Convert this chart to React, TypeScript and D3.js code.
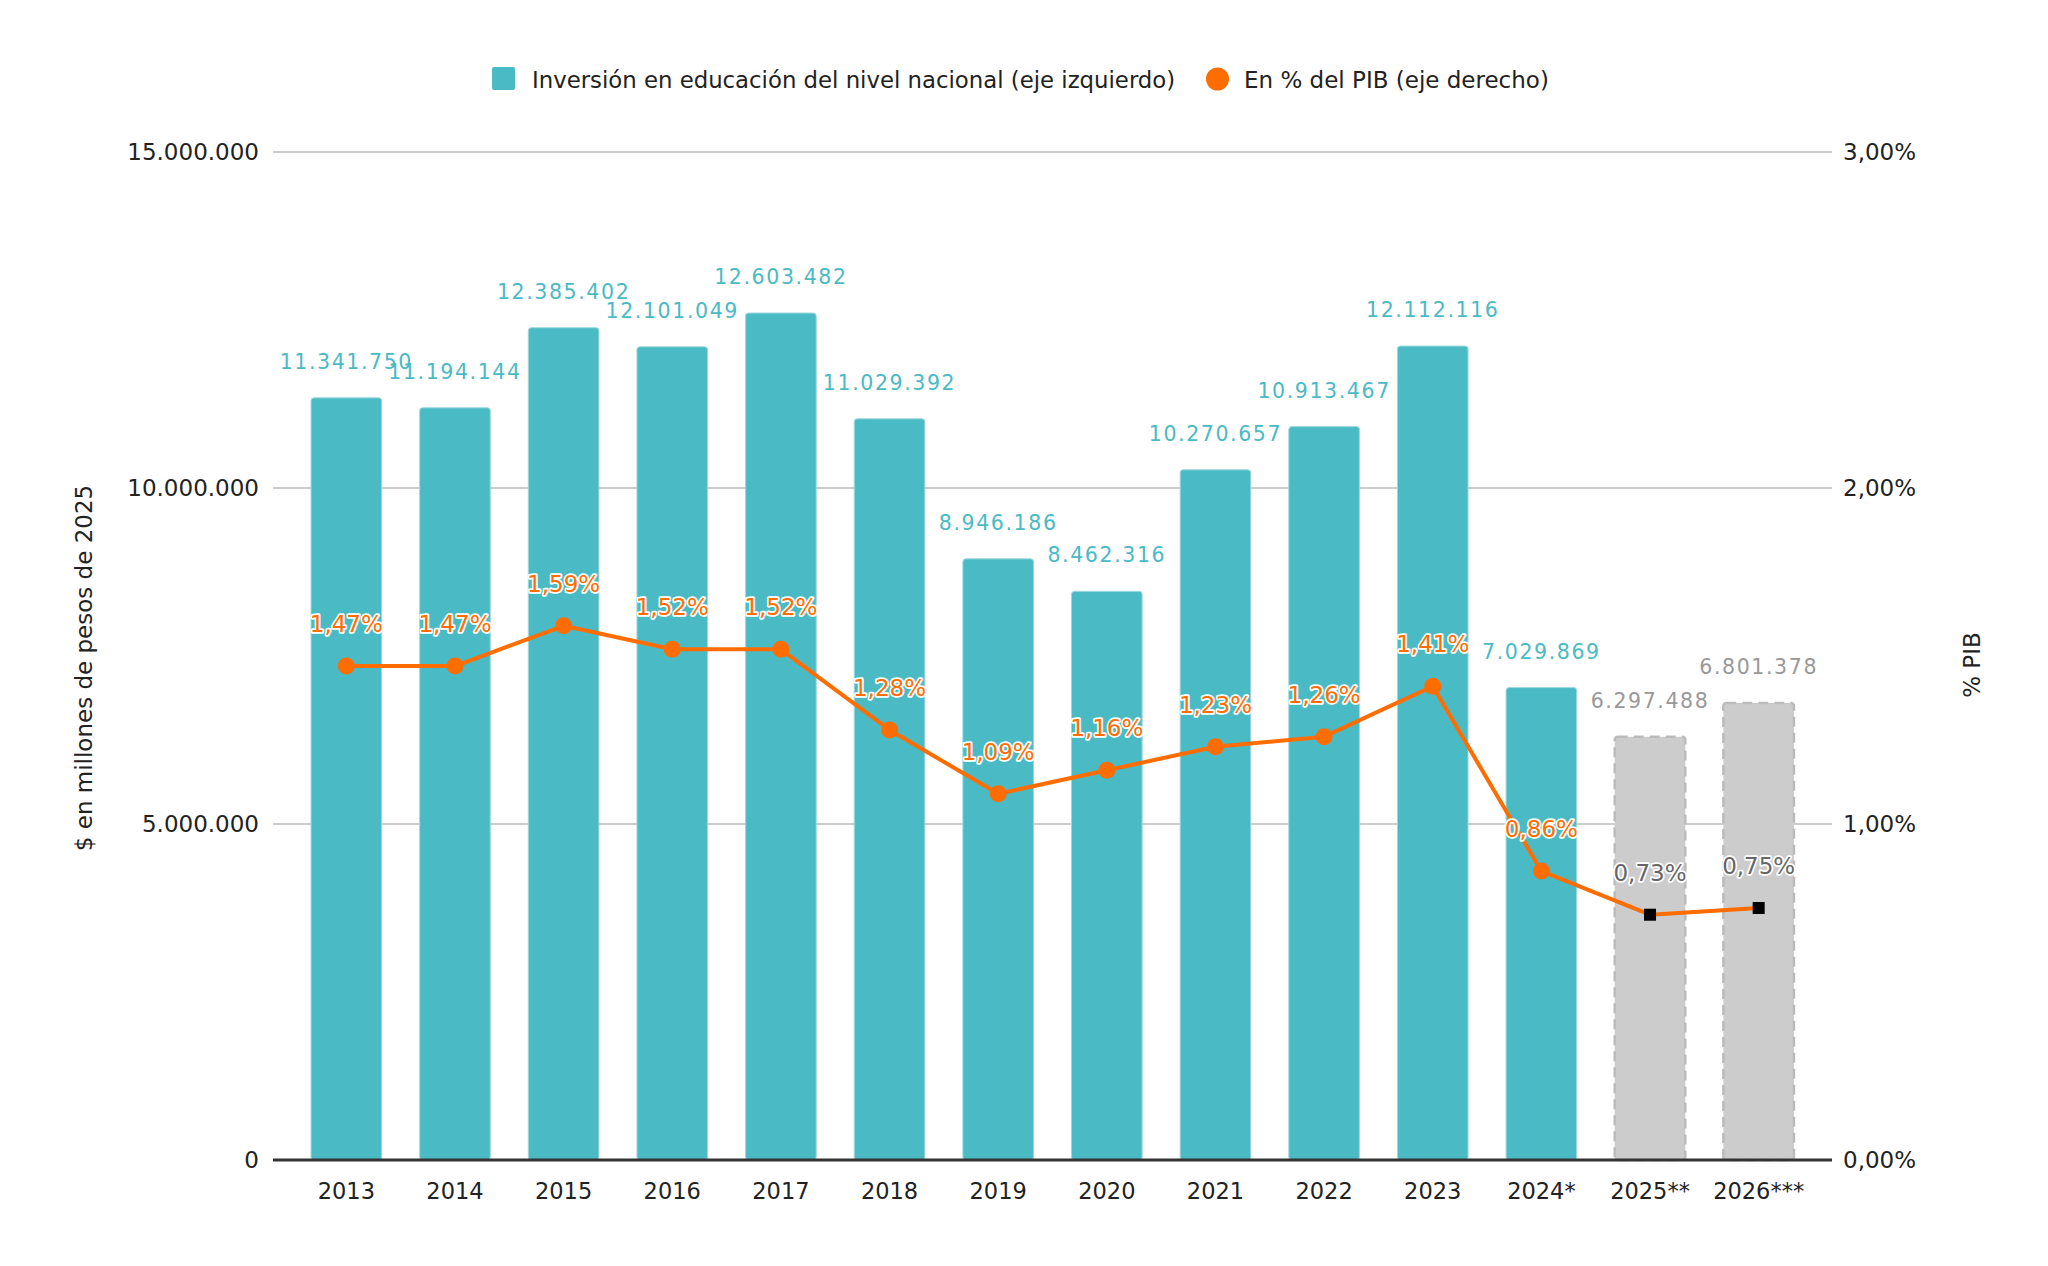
import React, { useRef, useEffect } from 'react';
import * as d3 from 'd3';

const years = ['2013', '2014', '2015', '2016', '2017', '2018', '2019', '2020', '2021', '2022', '2023', '2024*', '2025**', '2026***'];
const inversion = [11341750, 11194144, 12385402, 12101049, 12603482, 11029392, 8946186, 8462316, 10270657, 10913467, 12112116, 7029869, 6297488, 6801378];
const pctPib = [1.47, 1.47, 1.59, 1.52, 1.52, 1.28, 1.09, 1.16, 1.23, 1.26, 1.41, 0.86, 0.73, 0.75];
// years from this index on are projections (grey bars, black markers)
const projectedFrom = 12;
const leftTicks = [0, 5000000, 10000000, 15000000];
const rightTicks = [0, 1, 2, 3];

const width = 2048;
const height = 1266;
const teal = '#4abac5';
const orange = '#ff6d00';
const font = '"DejaVu Sans", Verdana, sans-serif';

const fmtInt = (v: number) => d3.format(',.0f')(v).replace(/,/g, '.');
const fmtPct = (v: number) => v.toFixed(2).replace('.', ',') + '%';

const App: React.FC = () => {
  const svgRef = useRef<SVGSVGElement | null>(null);

  useEffect(() => {
    const svg = d3.select(svgRef.current);
    svg.selectAll('*').remove();

    const margin = { top: 152, right: 216, bottom: 106, left: 273 };
    const innerW = width - margin.left - margin.right;
    const innerH = height - margin.top - margin.bottom;

    const x = d3.scaleBand<string>().domain(years).range([0, innerW]).paddingInner(0.35).paddingOuter(0.35);
    const yL = d3.scaleLinear().domain([0, 15000000]).range([innerH, 0]);
    const yR = d3.scaleLinear().domain([0, 3]).range([innerH, 0]);

    const g = svg.append('g').attr('transform', `translate(${margin.left},${margin.top})`);

    // gridlines
    g.selectAll('line.grid')
      .data(leftTicks.slice(1))
      .enter()
      .append('line')
      .attr('x1', 0)
      .attr('x2', innerW)
      .attr('y1', d => yL(d))
      .attr('y2', d => yL(d))
      .attr('stroke', '#cccccc')
      .attr('stroke-width', 2);

    // left tick labels
    g.selectAll('text.lt')
      .data(leftTicks)
      .enter()
      .append('text')
      .attr('x', -14)
      .attr('y', d => yL(d) + 8)
      .attr('text-anchor', 'end')
      .attr('font-family', font)
      .attr('font-size', 23)
      .attr('fill', '#222')
      .text(d => fmtInt(d));

    // right tick labels
    g.selectAll('text.rt')
      .data(rightTicks)
      .enter()
      .append('text')
      .attr('x', innerW + 11)
      .attr('y', d => yR(d) + 8)
      .attr('font-family', font)
      .attr('font-size', 23)
      .attr('fill', '#222')
      .text(d => d.toFixed(2).replace('.', ',') + '%');

    // bars
    g.selectAll('rect.bar')
      .data(inversion)
      .enter()
      .append('rect')
      .attr('x', (d, i) => x(years[i])!)
      .attr('y', d => yL(d))
      .attr('width', x.bandwidth())
      .attr('height', d => innerH - yL(d))
      .attr('rx', 3)
      .attr('fill', (d, i) => (i >= projectedFrom ? '#cccccc' : teal))
      .attr('stroke', (d, i) => (i >= projectedFrom ? '#bbbbbb' : '#9fd8de'))
      .attr('stroke-width', (d, i) => (i >= projectedFrom ? 2.5 : 1))
      .attr('stroke-dasharray', (d, i) => (i >= projectedFrom ? '10,6' : null));

    // baseline
    g.append('line')
      .attr('x1', 0)
      .attr('x2', innerW)
      .attr('y1', innerH)
      .attr('y2', innerH)
      .attr('stroke', '#333')
      .attr('stroke-width', 3);

    // bar value labels
    g.selectAll('text.bv')
      .data(inversion)
      .enter()
      .append('text')
      .attr('x', (d, i) => x(years[i])! + x.bandwidth() / 2)
      .attr('y', d => yL(d) - 29)
      .attr('text-anchor', 'middle')
      .attr('font-family', font)
      .attr('font-size', 20.5)
      .attr('letter-spacing', 1.6)
      .attr('fill', (d, i) => (i >= projectedFrom ? '#999999' : teal))
      .text(d => fmtInt(d));

    // x labels
    g.selectAll('text.xl')
      .data(years)
      .enter()
      .append('text')
      .attr('x', d => x(d)! + x.bandwidth() / 2)
      .attr('y', innerH + 39)
      .attr('text-anchor', 'middle')
      .attr('font-family', font)
      .attr('font-size', 22.5)
      .attr('fill', '#222')
      .text(d => d);

    // % PIB line
    const cx = (i: number) => x(years[i])! + x.bandwidth() / 2;
    const line = d3.line<number>()
      .x((d, i) => cx(i))
      .y(d => yR(d));
    g.append('path')
      .datum(pctPib)
      .attr('d', line)
      .attr('fill', 'none')
      .attr('stroke', orange)
      .attr('stroke-width', 4)
      .attr('stroke-linejoin', 'round');

    const pts = pctPib.map((v, i) => ({ v, i }));
    g.selectAll('circle.pt')
      .data(pts.filter(p => p.i < projectedFrom))
      .enter()
      .append('circle')
      .attr('cx', p => cx(p.i))
      .attr('cy', p => yR(p.v))
      .attr('r', 8.5)
      .attr('fill', orange);
    g.selectAll('rect.pt')
      .data(pts.filter(p => p.i >= projectedFrom))
      .enter()
      .append('rect')
      .attr('x', p => cx(p.i) - 6)
      .attr('y', p => yR(p.v) - 6)
      .attr('width', 12)
      .attr('height', 12)
      .attr('fill', '#000');

    g.selectAll('text.pl')
      .data(pts)
      .enter()
      .append('text')
      .attr('x', p => cx(p.i))
      .attr('y', p => yR(p.v) - 34)
      .attr('text-anchor', 'middle')
      .attr('font-family', font)
      .attr('font-size', 23)
      .attr('fill', p => (p.i >= projectedFrom ? '#666666' : orange))
      .attr('stroke', '#ffffff')
      .attr('stroke-width', 3.5)
      .attr('stroke-linejoin', 'round')
      .attr('paint-order', 'stroke')
      .text(p => fmtPct(p.v));

    // axis titles
    svg.append('text')
      .attr('transform', `translate(92,${margin.top + innerH / 2 + 12}) rotate(-90)`)
      .attr('text-anchor', 'middle')
      .attr('font-family', font)
      .attr('font-size', 23)
      .attr('fill', '#222')
      .text('$ en millones de pesos de 2025');
    svg.append('text')
      .attr('transform', `translate(1980,${margin.top + innerH / 2 + 9}) rotate(-90)`)
      .attr('text-anchor', 'middle')
      .attr('font-family', font)
      .attr('font-size', 23)
      .attr('fill', '#222')
      .text('% PIB');

    // legend
    const lg = svg.append('g');
    lg.append('rect')
      .attr('x', 492)
      .attr('y', 67)
      .attr('width', 23)
      .attr('height', 23)
      .attr('rx', 2)
      .attr('fill', teal);
    lg.append('text')
      .attr('x', 532)
      .attr('y', 88)
      .attr('font-family', font)
      .attr('font-size', 22.8)
      .attr('fill', '#222')
      .text('Inversión en educación del nivel nacional (eje izquierdo)');
    lg.append('circle')
      .attr('cx', 1217.5)
      .attr('cy', 79)
      .attr('r', 11.5)
      .attr('fill', orange);
    lg.append('text')
      .attr('x', 1244)
      .attr('y', 88)
      .attr('font-family', font)
      .attr('font-size', 23)
      .attr('fill', '#222')
      .text('En % del PIB (eje derecho)');
  }, []);

  return (
    <svg
      ref={svgRef}
      width={width}
      height={height}
      style={{ position: 'absolute', left: 0, top: 0, background: '#fff' }}
    />
  );
};

export default App;
